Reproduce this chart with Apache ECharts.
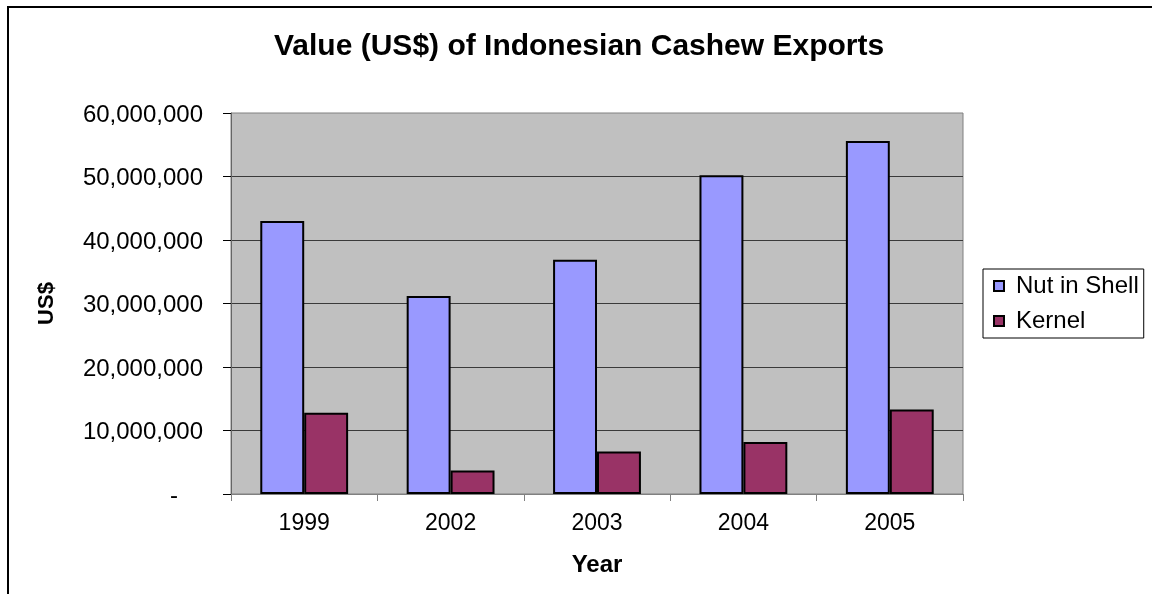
<!DOCTYPE html>
<html>
<head>
<meta charset="utf-8">
<script src="https://cdn.jsdelivr.net/npm/echarts@6/dist/echarts.min.js"></script>
<style>
  html, body { margin: 0; padding: 0; background: #fff; }
  #chart { width: 1152px; height: 594px; }
</style>
</head>
<body>
<div id="chart"></div>
<script>
const titleText = 'Value (US$) of Indonesian Cashew Exports';
const years = ['1999', '2002', '2003', '2004', '2005'];
const nutInShell = [43000000, 31200000, 36900000, 50200000, 55600000];
const kernel = [12800000, 3700000, 6700000, 8200000, 13300000];
const seriesNames = ['Nut in Shell', 'Kernel'];
const seriesColors = ['#9999FF', '#993366'];
const yMin = 0, yMax = 60000000, yStep = 10000000;

const FONT = "'Liberation Sans', Arial, sans-serif";

function fmt(v) {
  if (v === 0) return '{dash|-}';
  return '{num|' + v.toString().replace(/\B(?=(\d{3})+(?!\d))/g, ',') + '}';
}

const chart = echarts.init(document.getElementById('chart'), null, { renderer: 'canvas' });
chart.setOption({
  backgroundColor: '#ffffff',
  animation: false,
  title: {
    text: titleText,
    left: 274,
    top: 32,
    padding: 0,
    textStyle: { fontFamily: FONT, fontSize: 30, fontWeight: 'bold', color: '#000' }
  },
  graphic: [{
    type: 'rect',
    shape: { x: 8, y: 7, width: 1300, height: 800 },
    style: { fill: 'none', stroke: '#000', lineWidth: 2 },
    silent: true
  }],
  legend: {
    orient: 'vertical',
    left: 983,
    top: 269,
    padding: [5, 5, 5, 10],
    itemGap: 11,
    itemWidth: 10,
    itemHeight: 10,
    icon: 'rect',
    borderColor: '#000',
    borderWidth: 1,
    backgroundColor: '#fff',
    textStyle: { fontFamily: FONT, fontSize: 24, color: '#000', padding: [0, 0, 0, 7] },
    data: seriesNames
  },
  grid: {
    left: 231,
    top: 113,
    right: 189,
    bottom: 100,
    show: true,
    backgroundColor: '#C0C0C0',
    borderColor: '#808080',
    borderWidth: 1
  },
  xAxis: {
    type: 'category',
    data: years,
    name: 'Year',
    nameLocation: 'middle',
    nameGap: 59,
    nameTextStyle: { fontFamily: FONT, fontSize: 24, fontWeight: 'bold', color: '#000' },
    axisLine: { show: true, lineStyle: { color: '#808080', width: 1 } },
    axisTick: { show: true, length: 7, lineStyle: { color: '#808080' } },
    axisLabel: { fontFamily: FONT, fontSize: 23, color: '#000', margin: 18 },
    splitLine: { show: false }
  },
  yAxis: {
    type: 'value',
    min: yMin,
    max: yMax,
    interval: yStep,
    name: 'US$',
    nameLocation: 'middle',
    nameGap: 173,
    nameRotate: 90,
    nameTextStyle: { fontFamily: FONT, fontSize: 22, fontWeight: 'bold', color: '#000' },
    axisLine: { show: true, lineStyle: { color: '#666', width: 1 } },
    axisTick: { show: true, length: 8, lineStyle: { color: '#000' } },
    axisLabel: {
      fontFamily: FONT, fontSize: 24, color: '#000', margin: 28,
      formatter: fmt,
      rich: {
        num: { fontFamily: FONT, fontSize: 24, color: '#000', padding: [4, 0, 0, 0] },
        dash: { fontFamily: FONT, fontSize: 24, color: '#000', padding: [4, 25, 0, 0] }
      }
    },
    splitLine: { show: true, showMinLine: false, showMaxLine: false, lineStyle: { color: '#3a3a3a', width: 1 } }
  },
  series: [
    {
      name: seriesNames[0],
      type: 'bar',
      data: nutInShell,
      barGap: '0%',
      barCategoryGap: '40%',
      itemStyle: { color: seriesColors[0], borderColor: '#000', borderWidth: 2 }
    },
    {
      name: seriesNames[1],
      type: 'bar',
      data: kernel,
      barGap: '0%',
      barCategoryGap: '40%',
      itemStyle: { color: seriesColors[1], borderColor: '#000', borderWidth: 2 }
    }
  ]
});
</script>
</body>
</html>
